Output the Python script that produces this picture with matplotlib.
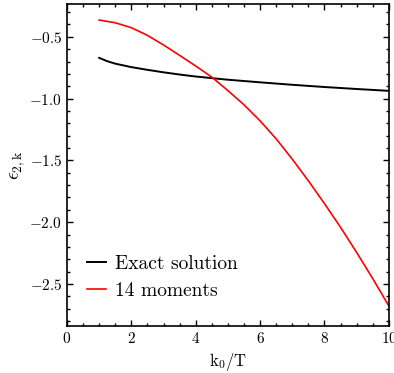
import matplotlib
matplotlib.use("Agg")
import matplotlib.pyplot as plt
from matplotlib.ticker import MultipleLocator

plt.rcParams['font.family'] = ['cmr10', 'DejaVu Serif']
plt.rcParams['mathtext.fontset'] = 'cm'
plt.rcParams['axes.formatter.use_mathtext'] = True
plt.rcParams['axes.unicode_minus'] = True

k_exact = [1.0, 1.25, 1.5, 2.0, 2.5, 3.0, 3.5, 4.0, 4.5, 5.0, 6.0, 7.0, 8.0, 9.0, 10.0]
eps_exact = [-0.670, -0.697, -0.717, -0.745, -0.767, -0.787, -0.805, -0.821, -0.834,
             -0.847, -0.868, -0.888, -0.906, -0.922, -0.937]

k_14 = [1.0, 1.5, 2.0, 2.5, 3.0, 3.5, 4.0, 4.5, 5.0, 5.5, 6.0, 6.5, 7.0, 7.5, 8.0,
        8.5, 9.0, 9.5, 10.0]
eps_14 = [-0.364, -0.386, -0.426, -0.488, -0.566, -0.650, -0.736, -0.826, -0.935,
          -1.050, -1.180, -1.326, -1.490, -1.665, -1.850, -2.042, -2.245, -2.457, -2.678]

labels = ["Exact solution", "14 moments"]

fig = plt.figure(figsize=(3.94, 3.73), dpi=100)
ax = fig.add_axes([0.170, 0.126, 0.817, 0.863])

ax.plot(k_exact, eps_exact, color='black', lw=1.4, label=labels[0])
ax.plot(k_14, eps_14, color='#ff0000', lw=1.2, label=labels[1])

ax.set_xlim(0, 10)
ax.set_ylim(-2.84, -0.235)
ax.xaxis.set_major_locator(MultipleLocator(2))
ax.xaxis.set_minor_locator(MultipleLocator(0.5))
ax.yaxis.set_major_locator(MultipleLocator(0.5))
ax.yaxis.set_minor_locator(MultipleLocator(0.1))
ax.tick_params(which='both', direction='in', top=True, right=True, labelsize=11, width=1.0)
ax.tick_params(which='major', length=4)
ax.tick_params(which='minor', length=2.5)
for s in ax.spines.values():
    s.set_linewidth(1.2)

ax.set_xlabel(r'$\mathrm{k_0/T}$', fontsize=12)
ax.set_ylabel(r'$\epsilon_{2,\mathrm{k}}$', fontsize=14, labelpad=2)

ax.legend(loc='lower left', frameon=False, fontsize=14, handlelength=1.0,
          handletextpad=0.45, borderaxespad=0.3, bbox_to_anchor=(0.02, 0.038))

fig.savefig("out.png", dpi=100)
